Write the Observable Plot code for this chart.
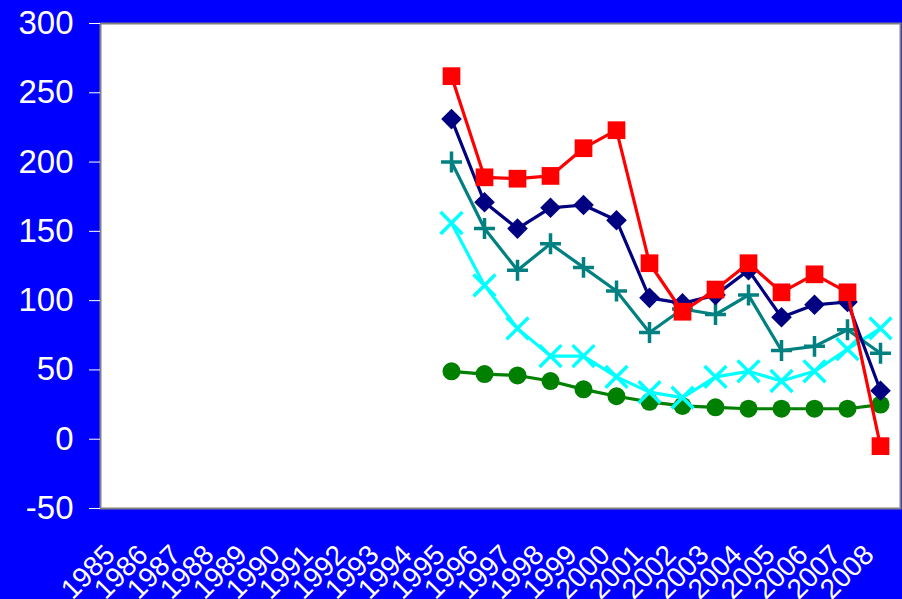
<!DOCTYPE html>
<html><head><meta charset="utf-8">
<script src="https://cdn.jsdelivr.net/npm/d3@7"></script>
<script src="https://cdn.jsdelivr.net/npm/@observablehq/plot@0.6"></script>
<style>html,body{margin:0;padding:0;background:#0000FF;overflow:hidden;}</style>
</head><body><div id="chart"></div>
<script>
const yearLabels = ["1985","1986","1987","1988","1989","1990","1991","1992","1993","1994","1995","1996","1997","1998","1999","2000","2001","2002","2003","2004","2005","2006","2007","2008"];
const dataYears = ["1995","1996","1997","1998","1999","2000","2001","2002","2003","2004","2005","2006","2007","2008"];
const greenCircles = [49,47,46,42,36,31,27,24,23,22,22,22,22,25];
const cyanTimes = [156,111,80,60,60,45,34,30,45,49,42,49,65,80];
const tealPlus = [200,152,122,141,124,107,77,94,90,104,64,67,79,62];
const navyDiamonds = [231,171,152,167,169,158,102,98,104,122,88,97,99,35];
const redSquares = [262,189,188,190,210,223,127,92,108,127,106,119,106,-5];
const yTicks = [-50,0,50,100,150,200,250,300];

const series = [
  {values: greenCircles, color: "#008000", symbol: "circle", r: 9, filled: true},
  {values: cyanTimes, color: "#00FFFF", symbol: "times", r: 10, filled: false},
  {values: tealPlus, color: "#008080", symbol: "plus", r: 6.8, filled: false},
  {values: navyDiamonds, color: "#000080", symbol: "diamond2", r: 9.3, filled: true},
  {values: redSquares, color: "#FF0000", symbol: "square", r: 10, filled: true}
];

const marks = [
  Plot.frame({fill: "white", stroke: "#808080", strokeWidth: 2}),
  Plot.axisY({ticks: yTicks, label: null, tickSize: 11, tickPadding: 16, fontSize: 33, stroke: "white", color: "white", tickFormat: d => String(d)}),
  Plot.text(yearLabels, {x: d => d, text: d => d, frameAnchor: "bottom", rotate: -45, textAnchor: "end", lineAnchor: "top", dx: -19, dy: 34, fontSize: 28, fill: "white"})
];
for (const s of series) {
  const rows = dataYears.map((yr, i) => ({year: yr, value: s.values[i]}));
  marks.push(Plot.line(rows, {x: "year", y: "value", stroke: s.color, strokeWidth: 3.2}));
  marks.push(Plot.dot(rows, s.filled
    ? {x: "year", y: "value", symbol: () => s.symbol, r: s.r, fill: s.color, stroke: "none"}
    : {x: "year", y: "value", symbol: () => s.symbol, r: s.r, stroke: s.color, strokeWidth: 3.5, fill: "none"}));
}

const chart = Plot.plot({
  width: 902, height: 599,
  marginLeft: 100, marginRight: 2, marginTop: 23, marginBottom: 91,
  style: {background: "#0000FF", fontFamily: "'Liberation Sans', Arial, sans-serif", color: "white", overflow: "visible"},
  x: {type: "point", domain: yearLabels, padding: 0.5, axis: null},
  y: {domain: [-50, 300], axis: null},
  symbol: {type: "identity"},
  marks
});
document.getElementById("chart").appendChild(chart);
</script>
</body></html>
